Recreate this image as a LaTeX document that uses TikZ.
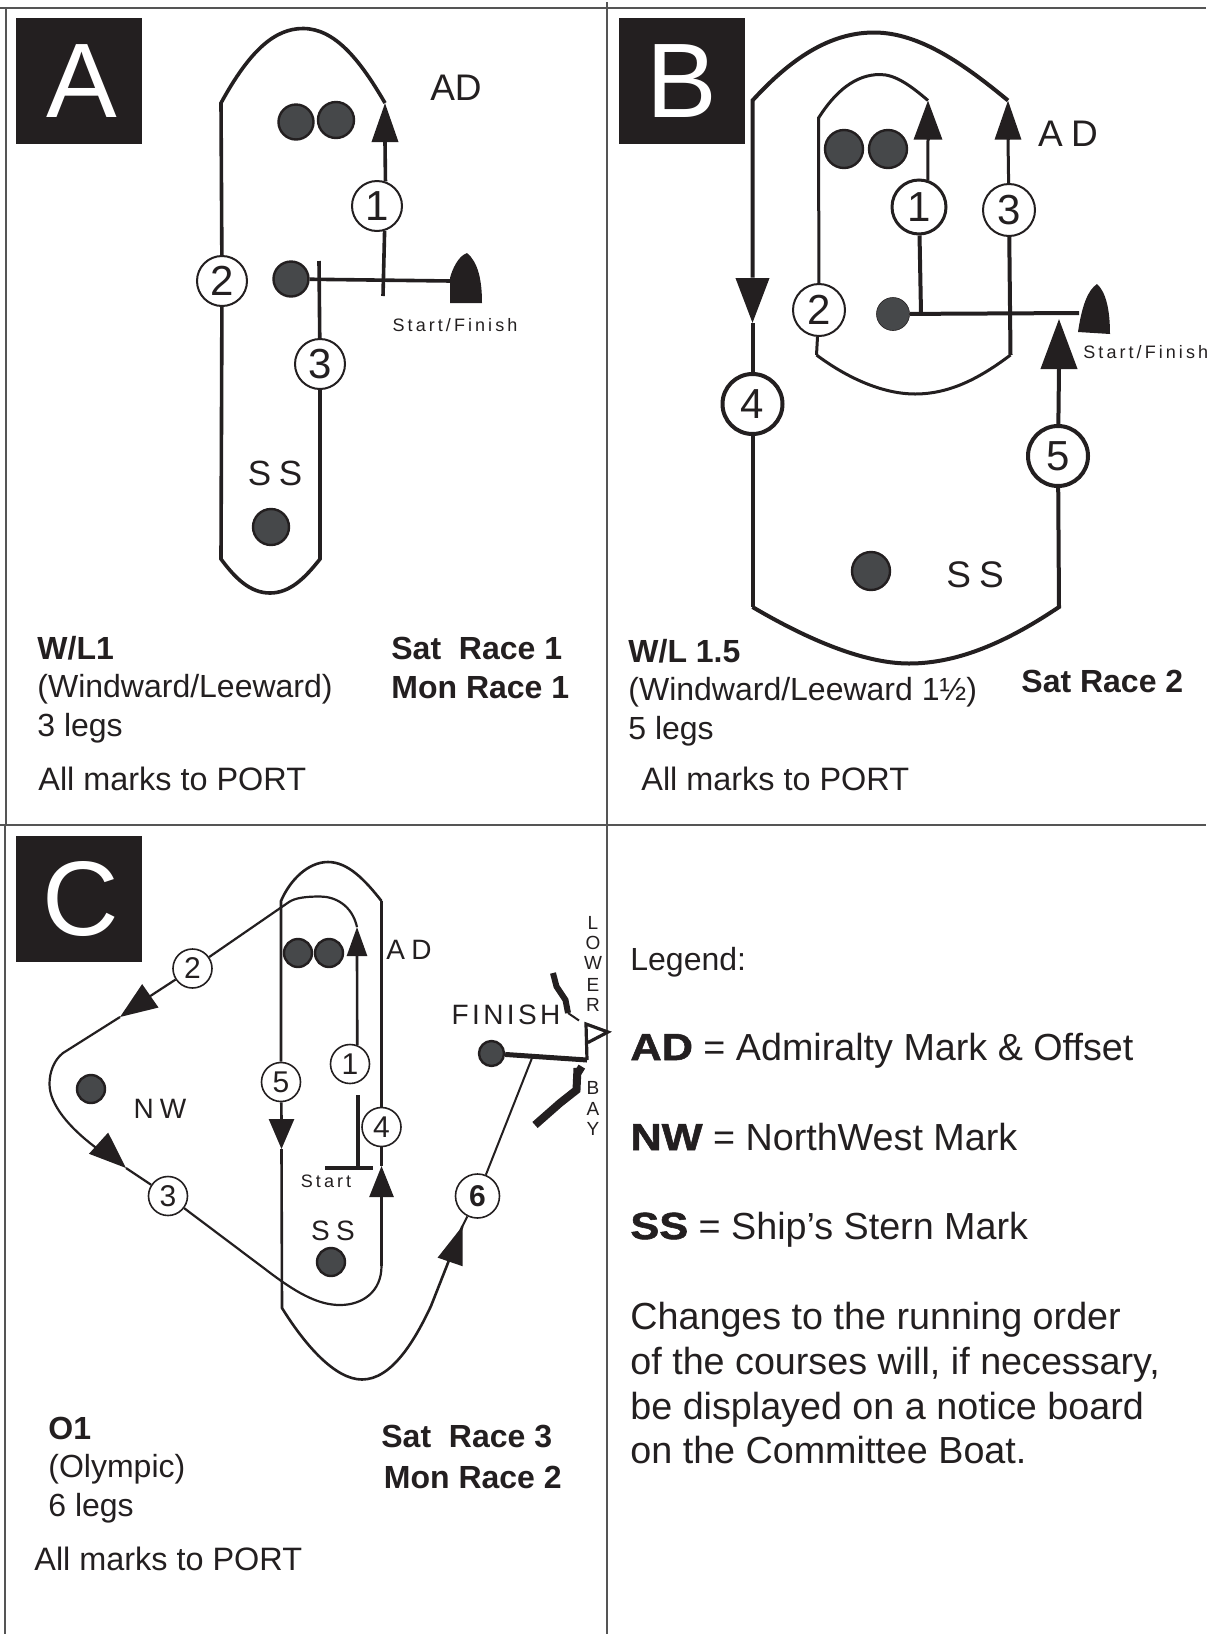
\documentclass[tikz,border=0pt]{standalone}
\usepackage{fontspec}
\setmainfont{Liberation Sans}
\newfontfamily\spaced[LetterSpace=12]{Liberation Sans}
\newfontfamily\boatfont[LetterSpace=17]{Liberation Sans}
\newfontfamily\wider[LetterSpace=22]{Liberation Sans}
\newfontfamily\heavy[FakeBold=1.5,FakeStretch=1.15]{Liberation Sans Bold}
\usetikzlibrary{arrows.meta}
\definecolor{ink}{HTML}{231F20}
\definecolor{rule}{HTML}{555555}
\definecolor{buoygray}{HTML}{46484A}
\begin{document}
\begin{tikzpicture}[x=.5pt,y=-.5pt,ink,
  course/.style={draw=ink,line width=#1,line join=miter},
  course/.default=1.8pt,
  head/.style 2 args={-{Triangle[length=#1,width=#2]}},
  leg/.style={circle,draw=ink,fill=white,line width=#1,inner sep=0,minimum size=25pt,font=\fontsize{21}{21}\selectfont},
  leg/.default=1pt,
  smallleg/.style={circle,draw=ink,fill=white,line width=.8pt,inner sep=0,minimum size=19.5pt,font=\fontsize{15}{15}\selectfont},
  buoy/.style={circle,draw=ink,fill=buoygray,line width=1.2pt,inner sep=0,minimum size=#1},
  buoy/.default=17.5pt,
  badge/.style={fill=ink,text=white,inner sep=0,minimum width=63pt,minimum height=63pt,font=\fontsize{53}{53}\selectfont},
  txt/.style={anchor=base west,inner sep=0,font=\fontsize{16}{16}\selectfont},
  port/.style={anchor=base west,inner sep=0,font=\fontsize{16.2}{16.2}\selectfont},
  bold/.style={txt,font=\fontsize{16}{16}\selectfont\bfseries},
  legend/.style={anchor=base west,inner sep=0,font=\fontsize{18.85}{18.85}\selectfont},
  marktag/.style={inner sep=0,font=\fontsize{17.5}{17.5}\selectfont\wider},
  bigtag/.style={inner sep=0,font=\fontsize{18.5}{18.5}\selectfont\wider},
  thintag/.style={inner sep=0,font=\fontsize{14}{14}\selectfont\wider},
  smalltag/.style={inner sep=0,font=\fontsize{9}{9}\selectfont\boatfont},
  baytext/.style={inner sep=0,font=\fontsize{9.5}{9.5}\selectfont}]
\useasboundingbox(0,0)rectangle(1206,1634);
% frame
\draw[rule,line width=1pt](0,7.5)--(1206,7.5)(0,824.5)--(1206,824.5);
\draw[rule,line width=1pt](5.5,7.5)--(5.5,824.5)(4.5,824.5)--(4.5,1634)(607,2)--(607,1634);
\node[badge](boxA)at(79,81){\hspace{3pt}A};
\node[badge](boxB)at(682,81){B};
\node[badge](boxC)at(79,899){\hspace{1.5pt}C};
% course A
\coordinate(At)at(385,103);\coordinate(Ab)at(385,142);\coordinate(Ae)at(383,296);
\coordinate(Al)at(221,103);\coordinate(Ar)at(320,559);\coordinate(Ac)at(221,559);\coordinate(Ad)at(319,261);
\coordinate(Af)at(451,281);
\foreach\n/\p/\s in {Aa/{(296,122)}/17.5pt,Aaa/{(336,120)}/18pt,As/{(291,279)}/17.5pt,Ass/{(271,527)}/18pt}
  \node[buoy=\s](\n)at\p{};
\node[leg](A1)at(377,206){1};
\node[leg](A2)at(222,281){2};
\node[leg](A3)at(320,364){3};
\draw[course,head={19.5pt}{13pt}](Ab)--(At);
\draw[course](A1.71)--(Ab)(A1.-73)--(Ae);
\draw[course](At)..controls(360,60)and(335,28.5)..(303,28.5)..controls(275,28.5)and(250,50)..(Al)--(A2);
\draw[course](A2)--(Ac)..controls(235,578)and(250,593)..(270,593)..controls(290,593)and(305,578)..(Ar)--(A3)--(Ad);
\draw[course](As)--(Af);
\fill(Af)++(-1,-3)..controls(452,270)and(458,256)..(467,253)..controls(478,262)and(482,280)..(482,303)--(450,303)--cycle;
\node[bigtag](adA)at(456,88){\addfontfeature{LetterSpace=0}AD};
\node[marktag](ssA)at(275,473){SS};
\node[smalltag](sfA)at(455,325){Start/Finish};
\node[bold](titA)at(37,659){W/L1};
\node[txt](subA)at(37,697){(Windward/Leeward)};
\node[txt](legsA)at(37,736){3 legs};
\node[port](portA)at(38,790){All marks to PORT};
\node[bold](satA)at(391,659){Sat\ \ Race 1};
\node[bold](monA)at(391,698){Mon Race 1};
% course B
\coordinate(Bo)at(1008,100.5);\coordinate(Bob)at(1008,139);\coordinate(Bi)at(928,100.5);\coordinate(Bib)at(928,139);
\coordinate(Bil)at(818.5,118);\coordinate(Bbl)at(816.5,355);\coordinate(Bbr)at(1010.5,355);\coordinate(Bs)at(921,313);
\coordinate(Bf)at(1079,313);\coordinate(Bl)at(752.5,100.5);\coordinate(B4a)at(752.5,277.5);\coordinate(B4t)at(752.5,323);
\coordinate(Bq)at(752.5,607);\coordinate(Bq2)at(1059,607);\coordinate(B5a)at(1059,368.5);\coordinate(B5t)at(1059,319);
\foreach\n/\p in {Ba/{(844,149)},Baa/{(888,149)},Bss/{(871,571)}}
  \node[buoy=19pt](\n)at\p{};
\node[buoy=16.5pt,line width=.3pt](Bm)at(893,314){};
\node[leg=1.5pt,minimum size=27pt](B1)at(919,207){1};
\node[leg=1pt,minimum size=26pt](B2)at(819,310){2};
\node[leg=1pt,minimum size=26pt](B3)at(1009,210){3};
\node[leg=2pt,minimum size=30pt](B4)at(752.5,404){4};
\node[leg=2pt,minimum size=30pt](B5)at(1058,456){5};
\draw[course=1.5pt,head={19.5pt}{14pt}](Bib)--(Bi);
\draw[course=1.5pt](B1.72)--(Bib);
\draw[course=2pt](B1)--(Bs);
\draw[course=1.5pt](Bi)..controls(910,85)and(895,74.5)..(880,74.5)..controls(855,74.5)and(835,92)..(Bil)--(B2);
\draw[course=1.5pt](B2)--(Bbl);
\draw[course=1.5pt](Bbl)..controls(850,380)and(885,394)..(915,394)..controls(950,394)and(980,378)..(Bbr);
\draw[course=2pt](Bbr)--(B3);
\draw[course=1.5pt,head={19.5pt}{13pt}](Bob)--(Bo);
\draw[course=1.5pt](B3)--(Bob);
\draw[course=2pt](Bm)--(Bf);
\fill(1078,332)..controls(1082,305)and(1088,290)..(1097,284)..controls(1106,292)and(1110,310)..(1110,334)--cycle;
\draw[course=2pt](Bo)..controls(965,65)and(920,32.5)..(874,32.5)..controls(825,32.5)and(785,65)..(Bl)--(B4a);
\draw[course=2pt,head={22.5pt}{16.5pt}](B4a)--(B4t);
\draw[course=2pt](B4t)--(B4)(B4)--(Bq);
\draw[course=2pt](Bq)..controls(800,635)and(860,663.5)..(909,663.5)..controls(960,663.5)and(1010,640)..(Bq2)--(B5);
\draw[course=2pt](B5)--(B5a);
\draw[course=2pt,head={25pt}{18pt}](B5a)--(B5t);
\node[bigtag](adB)at(1068,134){AD};
\node[bigtag](ssB)at(975,575){SS};
\node[smalltag,anchor=west](sfB)at(1083,352){Start/Finish};
\node[bold](titB)at(628,662){W/L 1.5};
\node[txt](subB)at(628,700){(Windward/Leeward 1½)};
\node[txt](legsB)at(628,739){5 legs};
\node[port](portB)at(641,790){All marks to PORT};
\node[bold](satB)at(1021,692){Sat Race 2};
% course C
\coordinate(Cl)at(281,901);\coordinate(Cr)at(381.5,901);\coordinate(C4)at(381.5,1266);\coordinate(C4t)at(381.5,1166);\coordinate(C4b)at(381.5,1197);
\coordinate(C1t)at(357,927);\coordinate(C1b)at(357,956);\coordinate(Cbar)at(358,1168);\coordinate(Cbl)at(325,1168);\coordinate(Cbr)at(373,1168);\coordinate(C1e)at(358,1095);
\coordinate(C5b)at(281.5,1119);\coordinate(C5t)at(281.5,1149);\coordinate(Cq)at(282,1308);
\coordinate(C6b)at(451.5,1258);\coordinate(C6t)at(462.5,1226);\coordinate(C6e)at(532,1058);
\coordinate(C3b)at(105,1149);\coordinate(C3t)at(126,1168);\coordinate(C2b)at(146.5,998.5);\coordinate(C2t)at(120,1017);
\coordinate(Cf)at(587,1060);\coordinate(Cp)at(586,1024);
\foreach\n/\p in {Ca/{(298,953)},Caa/{(329,953)},Cn/{(91,1089)},Css/{(331,1262)}}
  \node[buoy=14pt](\n)at\p{};
\node[buoy=12.5pt](Cfin)at(491.5,1053.5){};
\node[smallleg](L1)at(350,1064){1};
\node[smallleg](L2)at(192.5,968.5){2};
\node[smallleg](L3)at(168,1196){3};
\node[smallleg](L4)at(381.5,1127){4};
\node[smallleg](L5)at(281,1082){5};
\node[smallleg,minimum size=22pt,font=\fontsize{15}{15}\selectfont\bfseries](L6)at(477.5,1196){6};
\draw[course=1.3pt](C4b)--(C4);
\draw[course=1.3pt,head={15.5pt}{12pt}](C4b)--(C4t);
\draw[course=1.3pt](C4t)--(L4)(L4)--(Cr);
\draw[course=1.3pt](Cr)..controls(365,880)and(348,862)..(328,862)..controls(308,862)and(290,880)..(Cl)--(L5);
\draw[course=1.3pt](L5)--(C5b);
\draw[course=1.3pt,head={15pt}{12.5pt}](C5b)--(C5t);
\draw[course=1.3pt](C5t)--(Cq)..controls(305,1345)and(335,1379.5)..(362,1379.5)..controls(392,1379.5)and(415,1340)..(431,1306)--(C6t);
\draw[course=1pt,head={19pt}{13pt}](C6b)--(C6t);
\draw[course=1pt](C6t)--(L6)(L6)--(C6e);
\draw[course=1.3pt](L1.69)--(C1b);
\draw[course=1.3pt,head={14.5pt}{10pt}](C1b)--(C1t);
\draw[course=1.8pt](C1e)--(Cbar);
\draw[course=1.8pt](Cbl)--(Cbr);
\draw[course=1.1pt](C1t)..controls(352,905)and(335,896.5)..(320,896.5)..controls(305,896.5)and(295,898)..(289,902)--(L2);
\draw[course=1.1pt](L2)--(C2b);
\draw[course=1.1pt,head={18.5pt}{14pt}](C2b)--(C2t);
\draw[course=1.1pt](C2t)--(63,1053)..controls(54,1060)and(49.5,1072)..(49.5,1084)..controls(49.5,1105)and(70,1128)..(95,1147)--(C3b);
\draw[course=1.1pt,head={18.5pt}{14pt}](C3b)--(C3t);
\draw[course=1.1pt](C3t)--(L3);
\draw[course=1.1pt](L3)--(273,1275)..controls(300,1295)and(320,1305)..(340,1305)..controls(362,1305)and(381.5,1292)..(C4);
\draw[course=2.5pt](Cfin)--(Cf);
\draw[course=1.6pt,miter limit=3](Cf)--(Cp)--(608,1032)--(588,1042.5);
\draw[line width=3pt](553,973)--(556.5,986.5)--(565.5,1000)--(568,1013);
\draw[line width=1pt](568,1013)--(579,1020.5);
\draw[line width=4pt](576.5,1068)--(583,1072)(577.5,1068)--(576.5,1090)--(560,1103)--(535,1125);
\node[thintag](adC)at(409,950){AD};
\node[thintag](nwC)at(160,1109){NW};
\node[smalltag](stC)at(326,1181){Start};
\node[thintag](ssC)at(333,1231){SS};
\node[thintag,font=\fontsize{14}{14}\selectfont\spaced](fiC)at(506,1015){FINISH};
\foreach\n/\l/\y in {lo/L/923,lw/O/943,le/W/963,lr/E/985,ls/R/1005,bb/B/1088,ba/A/1109,by/Y/1129}
  \node[baytext](\n)at(593,\y){\l};
\node[bold](titC)at(48,1439){O1};
\node[txt](subC)at(48,1477){(Olympic)};
\node[txt](legsC)at(48,1516){6 legs};
\node[port](portC)at(34,1570){All marks to PORT};
\node[bold](satC)at(381,1447){Sat\ \ Race 3};
\node[bold](monC)at(383.5,1488){Mon Race 2};
% legend
\node[legend,font=\fontsize{16}{16}\selectfont](lgd)at(630,970){Legend:};
\node[legend](lgA)at(630,1060){{\heavy AD} = Admiralty Mark \& Offset};
\node[legend](lgN)at(630,1150){{\heavy NW} = NorthWest Mark};
\node[legend](lgS)at(630,1239){{\heavy SS} = Ship’s Stern Mark};
\node[legend](ln1)at(630,1329){Changes to the running order};
\node[legend](ln2)at(630,1374){of the courses will, if necessary,};
\node[legend](ln3)at(630,1419){be displayed on a notice board};
\node[legend](ln4)at(630,1463){on the Committee Boat.};
\end{tikzpicture}
\end{document}
